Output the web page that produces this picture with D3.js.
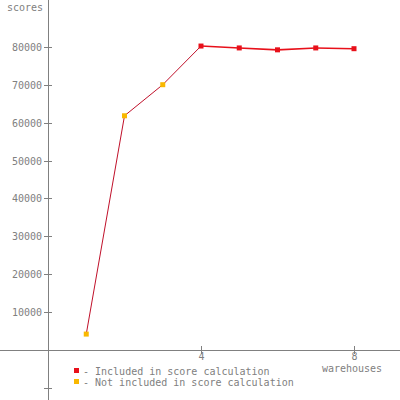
<!DOCTYPE html>
<html><head><meta charset="utf-8">
<script src="https://cdn.jsdelivr.net/npm/d3@7"></script>
<style>
html,body{margin:0;padding:0;background:#fff;}
svg{display:block;}
text{font-family:"DejaVu Sans Mono",monospace;font-size:10px;fill:#808080;}
</style></head>
<body>
<script>
const warehouses = [1, 2, 3, 4, 5, 6, 7, 8];
const scores = [4200, 61800, 70000, 80200, 79700, 79200, 79700, 79500];
const included = [false, false, false, true, true, true, true, true];
const yTicks = [-10000, 10000, 20000, 30000, 40000, 50000, 60000, 70000, 80000];
const xTicks = [4, 8];
const legendLabels = ["- Included in score calculation", "- Not included in score calculation"];
const legendColors = ["#e8101a", "#f9b800"];

const W = 400, H = 400;
const svg = d3.select("body").append("svg").attr("width", W).attr("height", H);
const x = d3.scaleLinear().domain([0, 8]).range([48, 354]);
const y = d3.scaleLinear().domain([0, 80000]).range([350, 46.8]);

const grey = "#808080";
svg.append("line").attr("x1", x(0)).attr("x2", x(0)).attr("y1", 0).attr("y2", H)
  .attr("stroke", grey).attr("stroke-width", 1).attr("shape-rendering", "crispEdges");
svg.append("line").attr("x1", 0).attr("x2", W).attr("y1", y(0)).attr("y2", y(0))
  .attr("stroke", grey).attr("stroke-width", 1).attr("shape-rendering", "crispEdges");

const yAxis = d3.axisLeft(y).tickValues(yTicks).tickSizeInner(4).tickSizeOuter(0)
  .tickFormat(d => d > 0 ? d : "");
const gy = svg.append("g").attr("transform", `translate(${x(0)},0)`).call(yAxis);
gy.select(".domain").remove();
gy.selectAll(".tick line").attr("x1", -4).attr("x2", 4).attr("stroke", grey).attr("shape-rendering", "crispEdges");
gy.selectAll(".tick text").attr("x", -6).attr("dy", "0.35em").style("font-family", '"DejaVu Sans Mono",monospace').style("font-size", "10px").attr("fill", grey);

const xAxis = d3.axisBottom(x).tickValues(xTicks).tickSizeInner(4).tickSizeOuter(0);
const gx = svg.append("g").attr("transform", `translate(0,${y(0)})`).call(xAxis);
gx.select(".domain").remove();
gx.selectAll(".tick line").attr("y1", -4).attr("y2", 4).attr("stroke", grey).attr("shape-rendering", "crispEdges");
gx.selectAll(".tick text").attr("y", 3).attr("dy", "0.71em").style("font-family", '"DejaVu Sans Mono",monospace').style("font-size", "10px").attr("fill", grey);

svg.append("text").attr("x", 43).attr("y", 11).attr("text-anchor", "end").text("scores");
svg.append("text").attr("x", 352).attr("y", 372).attr("text-anchor", "middle").text("warehouses");

const pts = warehouses.map((w, i) => ({w, s: scores[i], inc: included[i]}));
for (let i = 0; i < pts.length - 1; i++) {
  const a = pts[i], b = pts[i + 1];
  const both = a.inc && b.inc;
  svg.append("line")
    .attr("x1", x(a.w)).attr("y1", y(a.s)).attr("x2", x(b.w)).attr("y2", y(b.s))
    .attr("stroke", both ? "#e8101a" : "#c0102a")
    .attr("stroke-width", both ? 1.6 : 1);
}
svg.selectAll("rect.pt").data(pts).enter().append("rect").attr("class", "pt")
  .attr("x", d => x(d.w) - 2.5).attr("y", d => y(d.s) - 2.5)
  .attr("width", 5).attr("height", 5)
  .attr("fill", d => d.inc ? legendColors[0] : legendColors[1]);

const lg = svg.append("g");
legendLabels.forEach((t, i) => {
  lg.append("rect").attr("x", 74).attr("y", 368 + i * 11).attr("width", 5).attr("height", 5).attr("fill", legendColors[i]);
  lg.append("text").attr("x", 83).attr("y", 375 + i * 11).text(t);
});
</script>
</body></html>
